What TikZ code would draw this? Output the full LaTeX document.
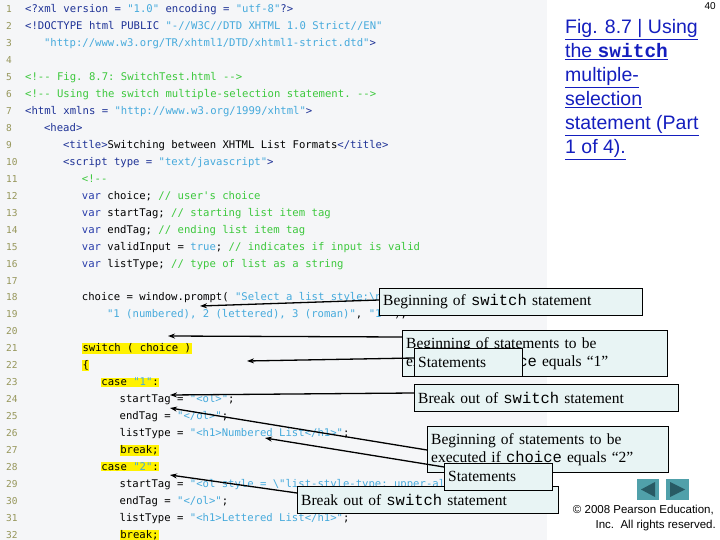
\documentclass[tikz,border=0pt]{standalone}
\usepackage{fontspec}
\setmainfont{Liberation Serif}
\setmonofont{DejaVu Sans Mono}
\newfontfamily\arialf{Liberation Sans}
\newfontfamily\courf{Liberation Mono}
\usetikzlibrary{arrows.meta}
\definecolor{tagc}{RGB}{30,50,150}
\definecolor{strc}{RGB}{70,170,220}
\definecolor{cmc}{RGB}{60,200,60}
\definecolor{kwc}{RGB}{40,60,170}
\definecolor{numc}{RGB}{150,150,90}
\definecolor{boxc}{RGB}{232,244,244}
\definecolor{panel}{RGB}{245,246,248}
\definecolor{titc}{RGB}{20,30,190}
\definecolor{navc}{RGB}{80,160,170}
\definecolor{navd}{RGB}{40,90,100}
\newcommand\cT[1]{\textcolor{tagc}{#1}}
\newcommand\cS[1]{\textcolor{strc}{#1}}
\newcommand\cC[1]{\textcolor{cmc}{#1}}
\newcommand\cK[1]{\textcolor{kwc}{#1}}
\newcommand\hlite[1]{{\setlength\fboxsep{0.6pt}\colorbox{yellow}{#1}}}
\newcommand\sw{{\courf switch}}
\newcommand\ch{{\courf choice}}
\tikzset{
 codeln/.style={anchor=base west,inner sep=0pt,font=\ttfamily\fontsize{10.6}{12}\selectfont},
 numln/.style={anchor=base west,inner sep=0pt,text=numc,font=\ttfamily\fontsize{9.5}{12}\selectfont},
 callout/.style={draw=black,fill=boxc,anchor=north west,inner sep=0pt,font=\fontsize{15.5}{18}\selectfont,align=left},
 arr/.style={line width=1.3pt,-{Stealth[length=7pt,width=5pt]}},
 titln/.style={anchor=base west,inner sep=0pt,text=titc,font=\arialf\fontsize{19.5}{22}\selectfont},
}
\begin{document}
\begin{tikzpicture}[x=1pt,y=-1pt]
\useasboundingbox (0,0) rectangle (720,540);
\fill[panel] (0,0) rectangle (547,540);
% code lines
\foreach \i in {1,...,32} {\node[numln] (n\i) at (6,{12.5+(\i-1)*16.97}) {\i};}
\def\L#1#2#3{\node[codeln] (c#1) at ({25+6.3*#2},{12.5+(#1-1)*16.97}) {#3};}
\L{1}{0}{\cT{<?xml version = }\cS{"1.0"}\ \cT{encoding = }\cS{"utf-8"}\cT{?>}}
\L{2}{0}{\cT{<!DOCTYPE html PUBLIC }\cS{"-//W3C//DTD XHTML 1.0 Strict//EN"}}
\L{3}{3}{\cS{"http://www.w3.org/TR/xhtml1/DTD/xhtml1-strict.dtd"}\cT{>}}
\L{5}{0}{\cC{<!-- Fig. 8.7: SwitchTest.html -->}}
\L{6}{0}{\cC{<!-- Using the switch multiple-selection statement. -->}}
\L{7}{0}{\cT{<html xmlns = }\cS{"http://www.w3.org/1999/xhtml"}\cT{>}}
\L{8}{3}{\cT{<head>}}
\L{9}{6}{\cT{<title>}Switching between XHTML List Formats\cT{</title>}}
\L{10}{6}{\cT{<script type = }\cS{"text/javascript"}\cT{>}}
\L{11}{9}{\cC{<!--}}
\L{12}{9}{\cK{var} choice; \cC{// user's choice}}
\L{13}{9}{\cK{var} startTag; \cC{// starting list item tag}}
\L{14}{9}{\cK{var} endTag; \cC{// ending list item tag}}
\L{15}{9}{\cK{var} validInput = \cS{true}; \cC{// indicates if input is valid}}
\L{16}{9}{\cK{var} listType; \cC{// type of list as a string}}
\L{18}{9}{choice = window.prompt( \cS{"Select a list style:\textbackslash n"} +}
\L{19}{13}{\cS{"1 (numbered), 2 (lettered), 3 (roman)"}, \cS{"1"} );}
\L{21}{9}{\hlite{switch ( choice )}}
\L{22}{9}{\hlite{\{}}
\L{23}{12}{\hlite{case \cS{"1"}:}}
\L{24}{15}{startTag = \cS{"<ol>"};}
\L{25}{15}{endTag = \cS{"</ol>"};}
\L{26}{15}{listType = \cS{"<h1>Numbered List</h1>"};}
\L{27}{15}{\hlite{break;}}
\L{28}{12}{\hlite{case \cS{"2"}:}}
\L{29}{15}{startTag = \cS{"<ol style = \textbackslash"list-style-type: upper-alpha\textbackslash">"};}
\L{30}{15}{endTag = \cS{"</ol>"};}
\L{31}{15}{listType = \cS{"<h1>Lettered List</h1>"};}
\L{32}{15}{\hlite{break;}}
% title
\node[anchor=north east,inner sep=0pt,font=\arialf\fontsize{10}{12}\selectfont] (pg) at (716,2) {40};
\node[titln] (t1) at (565,34) {\underline{Fig. 8.7 | Using}};
\node[titln] (t2) at (565,58) {\underline{the {\courf\bfseries switch}}};
\node[titln] (t3) at (565,82) {\underline{multiple-}};
\node[titln] (t4) at (565,106) {\underline{selection}};
\node[titln] (t5) at (565,130) {\underline{statement (Part}};
\node[titln] (t6) at (565,154) {\underline{1 of 4).}};
% targets
\coordinate (p1) at (200,306);
\coordinate (p2) at (168,336);
\coordinate (p3) at (247,361);
\coordinate (p4) at (170,395);
\coordinate (p5) at (170,408);
\coordinate (p6) at (265,438);
\coordinate (p7) at (170,475);
% callouts
\node[callout,minimum width=263pt,minimum height=27pt,text width=255pt,inner xsep=4pt] (b1) at (379,288) {Beginning of \sw\ statement};
\node[callout,minimum width=265pt,minimum height=46pt,text width=257pt,inner xsep=4pt] (b2) at (402,330) {Beginning of statements to be\\executed if \ch\ equals “1”};
\node[callout,minimum width=108pt,minimum height=28pt,text width=100pt,inner xsep=4pt] (s1) at (414,348) {Statements};
\node[callout,minimum width=264pt,minimum height=27pt,text width=256pt,inner xsep=4pt] (b3) at (414,384) {Break out of \sw\ statement};
\node[callout,minimum width=241pt,minimum height=46pt,text width=233pt,inner xsep=4pt] (b4) at (427,426) {Beginning of statements to be\\executed if \ch\ equals “2”};
\node[callout,minimum width=261pt,minimum height=27pt,text width=253pt,inner xsep=4pt] (b5) at (297,486) {Break out of \sw\ statement};
\node[callout,minimum width=108pt,minimum height=27pt,text width=100pt,inner xsep=4pt] (s2) at (444,463) {Statements};
% arrows
\draw[arr] (b1.west |- 0,300) -- (p1);
\draw[arr] (b2.west |- 0,337) -- (p2);
\draw[arr] (s1.west |- 0,358) -- (p3);
\draw[arr] (b3.west |- 0,393) -- (p4);
\draw[arr] (b4.west |- 0,450) -- (p5);
\draw[arr] (s2.west |- 0,467) -- (p6);
\draw[arr] (b5.west |- 0,493) -- (p7);
% nav
\fill[navc] (637,479) rectangle (659,500);
\fill[navd] (655,482) -- (655,497) -- (641,489.5) -- cycle;
\fill[navc] (666,479) rectangle (689,500);
\fill[navd] (670,482) -- (670,497) -- (685,489.5) -- cycle;
\node[anchor=base east,inner sep=0pt,font=\arialf\fontsize{11.5}{14}\selectfont,align=right] (cp1) at (714,513) {© 2008 Pearson Education,};
\node[anchor=base east,inner sep=0pt,font=\arialf\fontsize{11.5}{14}\selectfont] (cp2) at (716,528) {Inc.\ \ All rights reserved.};
\end{tikzpicture}
\end{document}
